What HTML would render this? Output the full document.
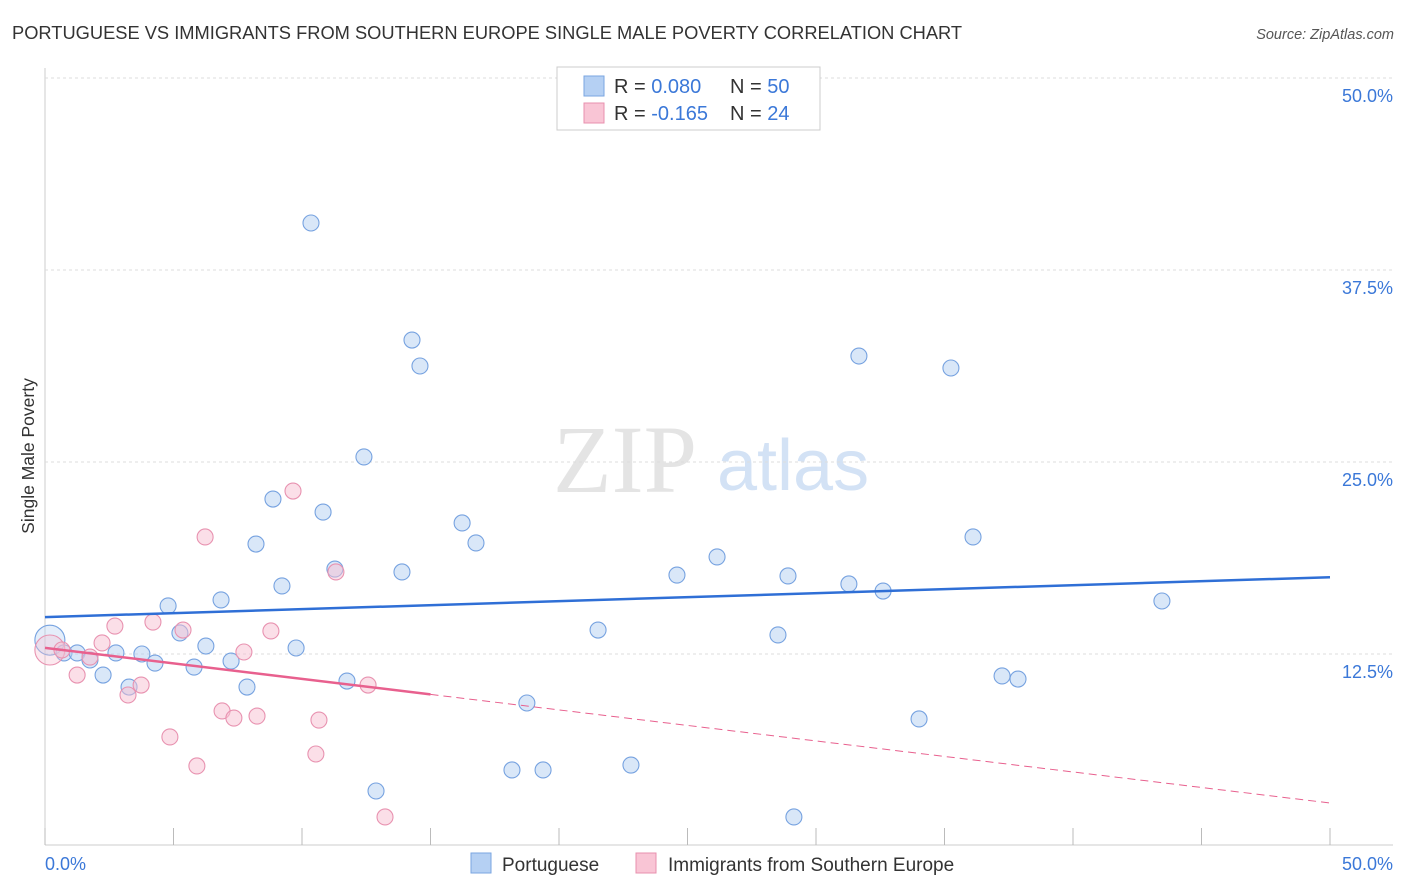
<!DOCTYPE html>
<html><head><meta charset="utf-8"><style>
body{margin:0;background:#fff;font-family:"Liberation Sans",sans-serif;}
svg{display:block}
</style></head><body>
<svg id="chart" width="1406" height="892">
<text x="12" y="39" font-size="18.3" fill="#333">PORTUGUESE VS IMMIGRANTS FROM SOUTHERN EUROPE SINGLE MALE POVERTY CORRELATION CHART</text>
<text x="1394" y="39" font-size="14.5" fill="#555" font-style="italic" text-anchor="end">Source: ZipAtlas.com</text>
<text transform="translate(34,456) rotate(-90)" font-size="17.5" fill="#333" text-anchor="middle">Single Male Poverty</text>
<g>
<text x="553" y="492" font-size="96" font-family="Liberation Serif,serif" fill="#e4e4e4">ZIP</text>
<text x="717" y="490" font-size="72" fill="#d3e2f5">atlas</text>
</g>
<g id="grid"></g>
<g id="marks"></g>
<g>
<rect x="557" y="67" width="263" height="63" fill="#fff" stroke="#ccc"/>
<rect x="584" y="76" width="20" height="20" fill="#b5d0f3" stroke="#7aa6e0"/>
<rect x="584" y="103" width="20" height="20" fill="#f9c5d5" stroke="#e890ae"/>
<text x="614" y="93" font-size="20" fill="#333">R = <tspan fill="#3b78d8">0.080</tspan><tspan x="730">N = </tspan><tspan fill="#3b78d8">50</tspan></text>
<text x="614" y="120" font-size="20" fill="#333">R = <tspan fill="#3b78d8">-0.165</tspan><tspan x="730">N = </tspan><tspan fill="#3b78d8">24</tspan></text>
</g>
<g>
<rect x="471" y="853" width="20" height="20" fill="#b5d0f3" stroke="#7aa6e0"/>
<text x="502" y="871" font-size="19" fill="#333">Portuguese</text>
<rect x="636" y="853" width="20" height="20" fill="#f9c5d5" stroke="#e890ae"/>
<text x="668" y="871" font-size="19" fill="#333">Immigrants from Southern Europe</text>
</g>
<text x="45" y="870" font-size="18" fill="#3b78d8">0.0%</text>
<text x="1393" y="870" font-size="18" fill="#3b78d8" text-anchor="end">50.0%</text>
</svg>
<script>
const yTicks=[12.5,25,37.5,50];
const yTickLabels=["12.5%","25.0%","37.5%","50.0%"];
const blueX=[0.19,0.74,1.25,1.75,2.26,2.76,3.27,3.77,4.28,4.79,5.25,5.8,6.26,6.85,7.24,7.86,8.21,8.87,9.22,9.77,10.35,10.82,11.28,11.75,12.41,12.88,13.89,14.28,14.59,16.23,16.77,18.17,18.75,19.38,21.52,22.8,24.59,26.15,28.52,28.91,29.14,31.28,31.67,32.61,34.01,35.25,36.11,37.24,37.86,43.46];
const blueY=[13.4,12.57,12.57,12.11,11.13,12.57,10.35,12.5,11.91,15.63,13.87,11.65,13.02,16.02,12.04,10.35,19.66,22.59,16.93,12.89,40.56,21.74,18.03,10.74,25.33,3.58,17.84,32.94,31.25,21.03,19.73,4.95,9.31,4.95,14.06,5.27,17.64,18.82,13.74,17.58,1.89,17.06,31.9,16.6,8.27,31.12,20.12,11.07,10.87,15.95];
const pinkX=[0.19,0.66,1.25,1.75,2.22,2.72,3.23,3.74,4.2,4.86,5.37,5.91,6.23,6.89,7.35,7.74,8.25,8.79,9.65,10.54,10.66,11.32,12.57,13.23];
const pinkY=[12.76,12.76,11.13,12.3,13.22,14.32,9.83,10.48,14.58,7.1,14.06,5.21,20.12,8.79,8.33,12.63,8.46,14.0,23.11,5.99,8.2,17.84,10.48,1.89];
const blueTrend=[14.9,17.5];
const pinkTrend=[12.9,2.8];
const pinkSolidEnd=15;
const X=v=>45+v*25.7, Y=v=>846-v*15.36;
const NS="http://www.w3.org/2000/svg";
const grid=document.getElementById('grid'), marks=document.getElementById('marks');
function mk(tag,attrs,parent){const e=document.createElementNS(NS,tag);for(const k in attrs)e.setAttribute(k,attrs[k]);parent.appendChild(e);return e;}
let l=mk('line',{x1:45,x2:45,y1:68,y2:845,stroke:'#ccc'},grid);


l=mk('line',{x1:45,x2:1393,y1:845,y2:845,stroke:'#ccc'},grid);


for(let i=0;i<=10;i++){const t=mk('line',{x1:X(i*5),x2:X(i*5),y1:828,y2:845,stroke:'#bbb'},grid);

}
yTicks.forEach((v,i)=>{const g=mk('line',{x1:45,x2:1393,y1:Y(v),y2:Y(v),stroke:'#ddd','stroke-dasharray':'3,3'},grid);


const t=mk('text',{x:1393,y:Y(v)+24,'font-size':18,fill:'#3b78d8','text-anchor':'end'},grid);t.textContent=yTickLabels[i];

});
function pts(xs,ys,fill,stroke,name){xs.forEach((x,i)=>{const c=mk('circle',{cx:X(x),cy:Y(ys[i]),r:i===0?15:8,fill:fill,'fill-opacity':i===0?0.35:0.5,stroke:stroke,'stroke-width':1.1},marks);

});}
pts(blueX,blueY,'#b3cff2','#76a2e0','portuguese-point');
pts(pinkX,pinkY,'#f7c0d1','#e892b0','southern-europe-point');
l=mk('line',{x1:X(0),y1:Y(blueTrend[0]),x2:X(50),y2:Y(blueTrend[1]),stroke:'#2f6fd6','stroke-width':2.5},marks);


const py=x=>pinkTrend[0]+(pinkTrend[1]-pinkTrend[0])*x/50;
l=mk('line',{x1:X(0),y1:Y(py(0)),x2:X(pinkSolidEnd),y2:Y(py(pinkSolidEnd)),stroke:'#e8608e','stroke-width':2.5},marks);


l=mk('line',{x1:X(pinkSolidEnd),y1:Y(py(pinkSolidEnd)),x2:X(50),y2:Y(py(50)),stroke:'#e8608e','stroke-width':1,'stroke-dasharray':'8,5'},marks);


</script>
</body></html>
